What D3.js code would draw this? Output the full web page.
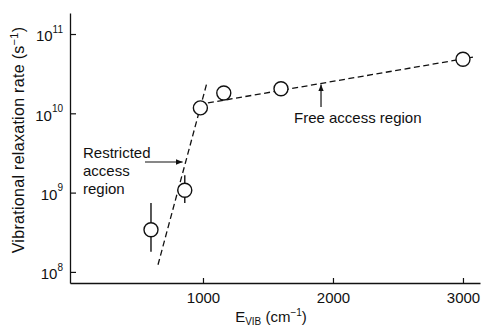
<!DOCTYPE html>
<html>
<head>
<meta charset="utf-8">
<script src="https://cdn.jsdelivr.net/npm/d3@7/dist/d3.min.js"></script>
<style>
  html, body { margin: 0; padding: 0; background: #fff; }
  svg text { font-family: "Liberation Sans", Arial, Helvetica, sans-serif; fill: #111; }
</style>
</head>
<body>
<svg id="chart" width="483" height="331"></svg>
<script>
// Measured relaxation rates (s^-1) versus vibrational energy (cm^-1)
const energies = [600, 860, 980, 1160, 1600, 3000];
const rates    = [3.4e8, 1.07e9, 1.17e10, 1.8e10, 2.04e10, 4.8e10];
const errLow   = [1.8e8, 7.4e8, null, null, null, null];
const errHigh  = [7.4e8, 1.66e9, null, null, null, null];

// Fitted trend lines: restricted-access (steep) and free-access (shallow)
const restrictedFit = [[654, 1.23e8], [1031, 2.45e10]];
const freeFit       = [[1038, 1.35e10], [3077, 5.1e10]];

const xTicks = [1000, 2000, 3000];
const yTickExps = [8, 9, 10, 11];

const svg = d3.select("#chart");

const x = d3.scaleLinear().domain([-23, 3131]).range([70, 480]);
const y = d3.scaleLog().domain([Math.pow(10, 7.86), Math.pow(10, 11.265)]).range([283, 13]);

const ink = "#111";

// Axes: ticks point into the plot
const xAxis = d3.axisBottom(x).tickValues(xTicks).tickSizeInner(-5).tickSizeOuter(0).tickPadding(9).tickFormat(d3.format("d"));
const gx = svg.append("g").attr("transform", "translate(0,283)").call(xAxis);
gx.select(".domain").attr("stroke", ink).attr("stroke-width", 1.3);
gx.selectAll(".tick line").attr("stroke", ink).attr("stroke-width", 1.2);
gx.selectAll(".tick text").attr("font-size", 15).attr("fill", ink)
  .style("font-family", "'Liberation Sans', Arial, sans-serif");

const yAxis = d3.axisLeft(y).tickValues(yTickExps.map(e => Math.pow(10, e))).tickSizeInner(-6).tickSizeOuter(0).tickFormat("");
const gy = svg.append("g").attr("transform", "translate(70,0)").call(yAxis);
gy.select(".domain").attr("stroke", ink).attr("stroke-width", 1.3);
gy.selectAll(".tick line").attr("stroke", ink).attr("stroke-width", 1.2);
gy.selectAll(".tick").each(function(d) {
  const t = d3.select(this).append("text")
    .attr("x", -7).attr("text-anchor", "end").attr("font-size", 15).attr("fill", ink);
  t.append("tspan").attr("dy", "0.45em").text("10");
  t.append("tspan").attr("font-size", 10).attr("dy", "-0.85em").text(Math.round(Math.log10(d)));
});

// Axis titles
const xt = svg.append("text").attr("x", 271).attr("y", 322).attr("text-anchor", "middle").attr("font-size", 15);
xt.append("tspan").text("E");
xt.append("tspan").attr("font-size", 10).attr("dy", 3).text("VIB");
xt.append("tspan").attr("dy", -3).text(" (cm");
xt.append("tspan").attr("font-size", 10).attr("dy", -6).text("\u22121");
xt.append("tspan").attr("dy", 6).text(")");

const yt = svg.append("text").attr("transform", "translate(24,140) rotate(-90)")
  .attr("text-anchor", "middle").attr("font-size", 16).style("letter-spacing", "0.3px");
yt.append("tspan").text("Vibrational relaxation rate (s");
yt.append("tspan").attr("font-size", 11).attr("dy", -6).text("\u22121");
yt.append("tspan").attr("dy", 6).text(")");

// Dashed fit lines
const line = d3.line().x(d => x(d[0])).y(d => y(d[1]));
[restrictedFit, freeFit].forEach(seg => {
  svg.append("path").attr("d", line(seg)).attr("fill", "none")
    .attr("stroke", ink).attr("stroke-width", 1.3).attr("stroke-dasharray", "6,3.5");
});

// Error bars
energies.forEach((e, i) => {
  if (errLow[i] == null) return;
  svg.append("line").attr("x1", x(e)).attr("x2", x(e))
    .attr("y1", y(errHigh[i])).attr("y2", y(errLow[i]))
    .attr("stroke", ink).attr("stroke-width", 1.4);
});

// Data points
svg.selectAll("circle.pt").data(energies).join("circle").attr("class", "pt")
  .attr("cx", d => x(d)).attr("cy", (d, i) => y(rates[i])).attr("r", 7)
  .attr("fill", "#fff").attr("stroke", ink).attr("stroke-width", 1.4);

// Arrowhead marker
svg.append("defs").append("marker").attr("id", "ah")
  .attr("viewBox", "0 0 10 10").attr("refX", 10).attr("refY", 5)
  .attr("markerWidth", 7).attr("markerHeight", 7).attr("orient", "auto-start-reverse")
  .attr("markerUnits", "userSpaceOnUse")
  .append("path").attr("d", "M0,1 L10,5 L0,9 Z").attr("fill", ink);

// "Restricted access region" annotation, arrow pointing at the steep fit
const ry = 162;
const rLog = d3.scaleLinear().domain([y(restrictedFit[0][1]), y(restrictedFit[1][1])])
  .range([restrictedFit[0][0], restrictedFit[1][0]]);
const rTipX = x(rLog(ry)) - 3;
svg.append("line").attr("x1", 145).attr("y1", ry).attr("x2", rTipX).attr("y2", ry)
  .attr("stroke", ink).attr("stroke-width", 1.2).attr("marker-end", "url(#ah)");
const rl = svg.append("text").attr("x", 83).attr("y", 158).attr("font-size", 15);
rl.append("tspan").attr("x", 83).text("Restricted");
rl.append("tspan").attr("x", 83).attr("dy", 18).text("access");
rl.append("tspan").attr("x", 83).attr("dy", 18).text("region");

// "Free access region" annotation, arrow pointing up at the shallow fit
const fE = 1908;
const fRate = Math.pow(10, d3.scaleLinear().domain([freeFit[0][0], freeFit[1][0]])
  .range([Math.log10(freeFit[0][1]), Math.log10(freeFit[1][1])])(fE));
svg.append("line").attr("x1", x(fE)).attr("y1", 107).attr("x2", x(fE)).attr("y2", y(fRate) + 1)
  .attr("stroke", ink).attr("stroke-width", 1.2).attr("marker-end", "url(#ah)");
svg.append("text").attr("x", 294).attr("y", 123).attr("font-size", 15).text("Free access region");
</script>
</body>
</html>
